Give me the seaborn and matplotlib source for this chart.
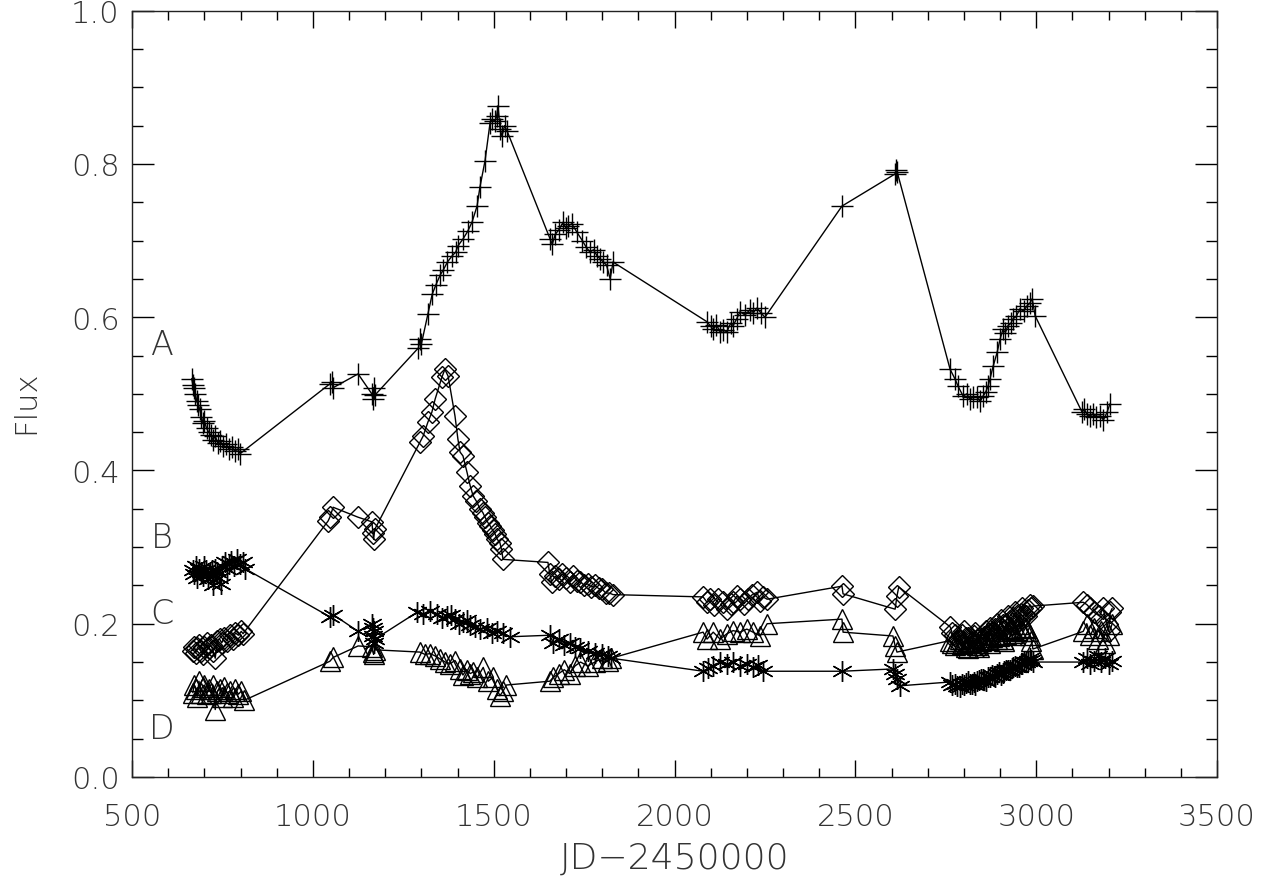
import numpy as np
import pandas as pd
import matplotlib
matplotlib.use("Agg")
import matplotlib.pyplot as plt
import seaborn as sns

# ---------------- data ----------------
a_x = [665, 668, 672, 675, 679, 683, 687, 692, 696, 700, 706, 712, 718, 724, 730, 737, 744, 752, 760, 768, 776, 784, 792, 799,
       1047, 1052, 1056, 1125, 1163, 1166, 1168, 1171,
       1292, 1296, 1300, 1318, 1330, 1340, 1352, 1361, 1372, 1385, 1395, 1401, 1415, 1428, 1440, 1454, 1462, 1476,
       1490, 1496, 1504, 1508, 1512, 1518, 1523, 1530, 1537,
       1656, 1662, 1670, 1680, 1692, 1700, 1706, 1716, 1730, 1745, 1755, 1766, 1776, 1786, 1795, 1803, 1812, 1822, 1830,
       2090, 2100, 2107, 2116, 2126, 2135, 2145, 2155, 2162, 2172, 2181, 2195, 2209, 2218, 2228, 2240, 2250,
       2463, 2610, 2613, 2616,
       2762, 2776, 2784, 2798, 2808, 2817, 2826, 2836, 2845, 2853, 2860, 2867, 2872, 2881, 2892, 2900, 2908, 2915,
       2922, 2930, 2936, 2945, 2955, 2965, 2975, 2982, 2989, 2997,
       3127, 3133, 3140, 3148, 3157, 3166, 3177, 3186, 3196, 3204]
a_y = [0.520, 0.512, 0.508, 0.500, 0.490, 0.486, 0.480, 0.470, 0.462, 0.465, 0.455, 0.450, 0.446, 0.440, 0.445, 0.436, 0.438, 0.432, 0.435, 0.428, 0.431, 0.425, 0.428, 0.422,
       0.513, 0.516, 0.508, 0.526, 0.500, 0.493, 0.508, 0.498,
       0.560, 0.571, 0.565, 0.604, 0.630, 0.642, 0.655, 0.662, 0.672, 0.680, 0.685, 0.693, 0.702, 0.712, 0.724, 0.745, 0.770, 0.804,
       0.854, 0.858, 0.856, 0.862, 0.875, 0.845, 0.836, 0.850, 0.843,
       0.702, 0.695, 0.708, 0.714, 0.724, 0.716, 0.719, 0.722, 0.711, 0.700, 0.692, 0.685, 0.688, 0.680, 0.676, 0.672, 0.668, 0.650, 0.672,
       0.594, 0.588, 0.584, 0.590, 0.581, 0.583, 0.581, 0.592, 0.589, 0.598, 0.607, 0.603, 0.610, 0.606, 0.612, 0.605, 0.600,
       0.745, 0.787, 0.792, 0.789,
       0.532, 0.519, 0.510, 0.497, 0.500, 0.493, 0.496, 0.496, 0.490, 0.497, 0.502, 0.510, 0.519, 0.536, 0.554, 0.571, 0.584, 0.580,
       0.589, 0.592, 0.598, 0.601, 0.611, 0.608, 0.615, 0.618, 0.624, 0.602,
       0.476, 0.480, 0.474, 0.471, 0.474, 0.470, 0.471, 0.466, 0.476, 0.487]

b_x = [668, 672, 676, 680, 685, 690, 695, 700, 706, 712, 718, 724, 730, 736, 742, 748, 755, 762, 770, 778, 786, 794, 802, 807,
       1042, 1047, 1056, 1125, 1163, 1166, 1168, 1171,
       1296, 1305, 1318, 1329, 1338, 1357, 1365, 1374, 1393, 1401, 1407, 1415, 1426, 1435, 1443, 1452, 1462, 1470, 1476,
       1484, 1490, 1497, 1504, 1510, 1517, 1521, 1526,
       1650, 1655, 1660, 1670, 1680, 1690, 1700, 1710, 1720, 1730, 1740, 1750, 1760, 1770, 1780, 1790, 1800, 1810, 1820, 1830,
       2079, 2090, 2098, 2110, 2121, 2133, 2145, 2155, 2162, 2172, 2181, 2192, 2203, 2215, 2228, 2237, 2245, 2256,
       2463, 2466, 2610, 2615, 2620,
       2762, 2768, 2775, 2781, 2788, 2794, 2800, 2806, 2812, 2817, 2822, 2827, 2832, 2837, 2842, 2847, 2852, 2857,
       2862, 2867, 2872, 2877, 2882, 2887, 2892, 2897, 2902, 2907, 2912, 2917, 2922, 2927, 2932, 2937, 2942, 2947,
       2952, 2957, 2962, 2967, 2972, 2977, 2982, 2987, 2991,
       3130, 3140, 3150, 3160, 3175, 3185, 3195, 3200, 3205, 3210]
b_y = [0.165, 0.170, 0.162, 0.168, 0.172, 0.165, 0.160, 0.170, 0.175, 0.168, 0.172, 0.165, 0.155, 0.178, 0.180, 0.175, 0.182, 0.178, 0.185, 0.180, 0.188, 0.185, 0.190, 0.187,
       0.334, 0.339, 0.352, 0.339, 0.333, 0.319, 0.310, 0.323,
       0.437, 0.445, 0.463, 0.476, 0.493, 0.522, 0.532, 0.523, 0.471, 0.441, 0.424, 0.419, 0.398, 0.380, 0.367, 0.360, 0.350, 0.345, 0.339,
       0.332, 0.328, 0.322, 0.317, 0.310, 0.306, 0.298, 0.284,
       0.280, 0.265, 0.255, 0.262, 0.258, 0.265, 0.260, 0.255, 0.262, 0.256, 0.255, 0.250, 0.252, 0.248, 0.250, 0.246, 0.245, 0.240, 0.240, 0.238,
       0.235, 0.228, 0.232, 0.225, 0.232, 0.228, 0.219, 0.226, 0.228, 0.236, 0.232, 0.226, 0.232, 0.238, 0.241, 0.230, 0.235, 0.232,
       0.249, 0.239, 0.219, 0.236, 0.248,
       0.196, 0.188, 0.185, 0.178, 0.178, 0.185, 0.190, 0.182, 0.182, 0.176, 0.175, 0.184, 0.188, 0.179, 0.180, 0.174, 0.172, 0.183,
       0.190, 0.186, 0.195, 0.188, 0.185, 0.193, 0.200, 0.196, 0.205, 0.198, 0.190, 0.200, 0.210, 0.203, 0.200, 0.208, 0.215, 0.210,
       0.205, 0.213, 0.220, 0.212, 0.210, 0.218, 0.225, 0.220, 0.223,
       0.228, 0.225, 0.220, 0.215, 0.210, 0.220, 0.200, 0.190, 0.215, 0.220]

c_x = [668, 672, 676, 680, 685, 690, 695, 700, 705, 710, 715, 720, 725, 730, 735, 740, 745, 750, 756, 762, 768, 775, 782, 790, 798, 806, 812,
       1047, 1056, 1125, 1163, 1165, 1166, 1168, 1170, 1172,
       1288, 1305, 1324, 1343, 1358, 1371, 1382, 1393, 1404, 1415, 1425, 1435, 1448, 1462, 1481, 1495, 1509, 1526, 1545,
       1655, 1665, 1680, 1695, 1710, 1725, 1740, 1760, 1780, 1800, 1815, 1825,
       2079, 2093, 2107, 2126, 2145, 2162, 2181, 2200, 2217, 2230, 2245,
       2463, 2604, 2610, 2615, 2624,
       2762, 2768, 2775, 2781, 2788, 2794, 2800, 2806, 2812, 2817, 2822, 2827, 2832, 2837, 2842, 2847, 2852, 2857,
       2862, 2867, 2872, 2877, 2882, 2887, 2892, 2897, 2902, 2907, 2912, 2917, 2922, 2927, 2932, 2937, 2942, 2947,
       2952, 2957, 2962, 2967, 2972, 2977, 2982, 2987, 2991,
       3130, 3140, 3150, 3160, 3170, 3180, 3190, 3200, 3210]
c_y = [0.270, 0.265, 0.275, 0.260, 0.272, 0.268, 0.262, 0.275, 0.270, 0.258, 0.265, 0.270, 0.250, 0.272, 0.268, 0.260, 0.252, 0.275, 0.280, 0.272, 0.278, 0.282, 0.275, 0.285, 0.278, 0.280, 0.272,
       0.209, 0.212, 0.190, 0.200, 0.195, 0.184, 0.190, 0.175, 0.180,
       0.215, 0.213, 0.217, 0.213, 0.208, 0.210, 0.212, 0.206, 0.200, 0.202, 0.205, 0.198, 0.196, 0.193, 0.195, 0.188, 0.190, 0.188, 0.183,
       0.185, 0.175, 0.180, 0.172, 0.175, 0.170, 0.168, 0.165, 0.162, 0.160, 0.158, 0.155,
       0.138, 0.142, 0.145, 0.150, 0.147, 0.150, 0.145, 0.148, 0.143, 0.146, 0.138,
       0.138, 0.141, 0.135, 0.128, 0.119,
       0.124, 0.120, 0.122, 0.119, 0.118, 0.121, 0.120, 0.123, 0.125, 0.121, 0.122, 0.124, 0.120, 0.125, 0.126, 0.128, 0.128, 0.126,
       0.125, 0.130, 0.130, 0.133, 0.132, 0.131, 0.135, 0.137, 0.133, 0.136, 0.138, 0.140, 0.140, 0.139, 0.142, 0.144, 0.145, 0.143,
       0.143, 0.147, 0.148, 0.150, 0.150, 0.152, 0.155, 0.153, 0.150,
       0.150, 0.155, 0.148, 0.152, 0.158, 0.150, 0.155, 0.148, 0.152]

d_x = [668, 672, 676, 680, 685, 690, 695, 700, 706, 712, 718, 724, 730, 736, 742, 748, 755, 762, 770, 778, 786, 794, 802, 810,
       1047, 1056, 1125, 1163, 1166, 1168, 1171,
       1296, 1310, 1324, 1338, 1352, 1366, 1380, 1393, 1407, 1415, 1425, 1435, 1444, 1455, 1471, 1485, 1498, 1509, 1517, 1526, 1535,
       1655, 1665, 1680, 1695, 1710, 1725, 1740, 1760, 1780, 1800, 1815, 1825,
       2079, 2090, 2107, 2126, 2145, 2162, 2181, 2200, 2217, 2237, 2256,
       2463, 2466, 2604, 2610, 2615,
       2762, 2768, 2775, 2781, 2788, 2794, 2800, 2806, 2812, 2817, 2822, 2827, 2832, 2837, 2842, 2847, 2852, 2857,
       2862, 2867, 2872, 2877, 2882, 2887, 2892, 2897, 2902, 2907, 2912, 2917, 2922, 2927, 2932, 2937, 2942, 2947,
       2952, 2957, 2962, 2967, 2972, 2977, 2982, 2987, 2991,
       3130, 3140, 3150, 3160, 3170, 3180, 3190, 3200, 3210]
d_y = [0.110, 0.120, 0.115, 0.105, 0.125, 0.110, 0.118, 0.120, 0.108, 0.115, 0.110, 0.120, 0.088, 0.112, 0.115, 0.105, 0.118, 0.110, 0.112, 0.105, 0.115, 0.108, 0.112, 0.100,
       0.151, 0.156, 0.171, 0.170, 0.163, 0.160, 0.166,
       0.163, 0.160, 0.161, 0.158, 0.154, 0.150, 0.148, 0.152, 0.141, 0.133, 0.140, 0.135, 0.137, 0.130, 0.143, 0.125, 0.130, 0.115, 0.106, 0.112, 0.120,
       0.125, 0.130, 0.135, 0.140, 0.135, 0.145, 0.150, 0.145, 0.150, 0.155, 0.152, 0.155,
       0.189, 0.180, 0.189, 0.180, 0.187, 0.191, 0.189, 0.193, 0.189, 0.184, 0.200,
       0.206, 0.189, 0.184, 0.171, 0.163,
       0.178, 0.175, 0.172, 0.177, 0.180, 0.174, 0.175, 0.170, 0.168, 0.176, 0.182, 0.178, 0.175, 0.172, 0.170, 0.177, 0.180, 0.183,
       0.185, 0.179, 0.175, 0.183, 0.190, 0.186, 0.180, 0.184, 0.185, 0.180, 0.178, 0.186, 0.190, 0.193, 0.195, 0.188, 0.185, 0.192,
       0.200, 0.194, 0.190, 0.196, 0.195, 0.190, 0.185, 0.178, 0.167,
       0.190, 0.200, 0.185, 0.195, 0.180, 0.190, 0.175, 0.185, 0.200]

labels = ["A", "B", "C", "D"]
label_y = [0.565, 0.313, 0.213, 0.063]
x_ticks = [500, 1000, 1500, 2000, 2500, 3000, 3500]
y_ticks = [0.0, 0.2, 0.4, 0.6, 0.8, 1.0]

# ---------------- plotting ----------------
sns.set_theme(style="white")
plt.rcParams["font.family"] = ["DejaVu Sans"]
plt.rcParams["font.weight"] = "light"

fig = plt.figure(figsize=(12.66, 8.78), dpi=100)
ax = fig.add_axes([0.1043, 0.1139, 0.8570, 0.8728])

series = [
    (a_x, a_y, dict(marker="+", markersize=16, markeredgewidth=1.0)),
    (b_x, b_y, dict(marker="D", markersize=11, markeredgewidth=1.0, fillstyle="none")),
    (c_x, c_y, dict(marker=(6, 2, 0), markersize=15, markeredgewidth=1.0)),
    (d_x, d_y, dict(marker="^", markersize=15, markeredgewidth=1.0, fillstyle="none")),
]
for xs, ys, style in series:
    df = pd.DataFrame({"x": xs, "y": ys})
    sns.lineplot(data=df, x="x", y="y", ax=ax, sort=False, estimator=None,
                 color="black", linewidth=1.0, markeredgecolor="black", **style)

ax.set_xlim(500, 3500)
ax.set_ylim(0.0, 1.0)
ax.set_xticks(x_ticks)
ax.set_yticks(y_ticks)
ax.set_xticks(np.arange(500, 3501, 100), minor=True)
ax.set_yticks(np.arange(0.0, 1.0001, 0.05), minor=True)
ax.set_xticklabels([str(v) for v in x_ticks])
ax.set_yticklabels([f"{v:.1f}" for v in y_ticks])

txt_color = "#333333"
ax.tick_params(axis="x", which="major", direction="in", length=12, width=1, top=True, bottom=True,
               pad=18, labelsize=22, labelcolor=txt_color, color="black")
ax.tick_params(axis="x", which="minor", direction="in", length=6.5, width=1, top=True, bottom=True, color="black")
ax.tick_params(axis="y", which="major", direction="in", length=16, width=1, left=True, right=True,
               pad=9, labelsize=22, labelcolor=txt_color, color="black")
ax.tick_params(axis="y", which="minor", direction="in", length=8, width=1, left=True, right=True, color="black")

for sp in ax.spines.values():
    sp.set_color("#222222")
    sp.set_linewidth(1.0)

ax.set_xlabel("JD\u22122450000", fontsize=26, color=txt_color, fontweight="light")
ax.set_ylabel("Flux", fontsize=22, color=txt_color, fontweight="light")
ax.xaxis.set_label_coords(0.5005, -0.083)
ax.yaxis.set_label_coords(-0.085, 0.49)

for lab, ly in zip(labels, label_y):
    ax.text(583, ly, lab, fontsize=24, color=txt_color, ha="center", va="center", fontweight="light")

ax.grid(False)
fig.savefig("out.png", dpi=100, facecolor="white")
